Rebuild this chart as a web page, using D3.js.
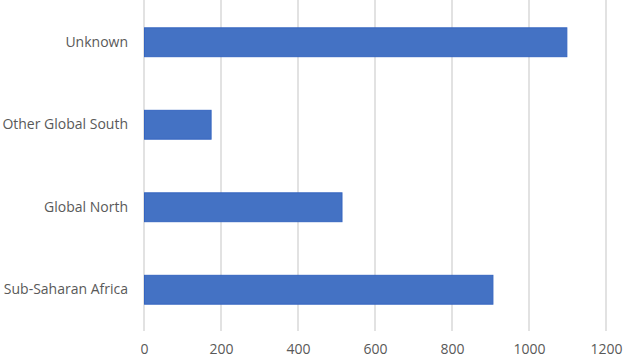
<!DOCTYPE html>
<html>
<head>
<meta charset="utf-8">
<script src="https://cdn.jsdelivr.net/npm/d3@7"></script>
<style>
  body { margin: 0; background: #fff; }
  svg text { font-family: "Open Sans", sans-serif; fill: #595959; }
</style>
</head>
<body>
<script>
// カテゴリと値（上から順）
var categories = ["Unknown", "Other Global South", "Global North", "Sub-Saharan Africa"];
var values = [1097, 173, 513, 905];
var tickValues = [0, 200, 400, 600, 800, 1000, 1200];

var fullWidth = 624, fullHeight = 359;
var margin = {top: 1, right: 18, bottom: 28, left: 144},
    width = fullWidth - margin.left - margin.right,
    height = fullHeight - margin.top - margin.bottom;

var data = categories.map((c, i) => ({name: c, value: values[i]}));

// X軸
var x = d3.scaleLinear().domain([0, 1200]).range([0, width]);

// Y軸（バンド）
var y = d3.scaleBand().domain(categories).range([0, height]).paddingInner(0.65).paddingOuter(0.325);

var svg = d3.select("body").append("svg")
    .attr("width", fullWidth)
    .attr("height", fullHeight)
    .append("g")
    .attr("transform", "translate(" + margin.left + "," + margin.top + ")");

// グリッド線
svg.append("g")
    .selectAll("line")
    .data(tickValues)
    .enter().append("line")
    .attr("x1", d => x(d))
    .attr("x2", d => x(d))
    .attr("y1", -1)
    .attr("y2", height)
    .attr("stroke", "#d9d9d9")
    .attr("stroke-width", 1.5);

// バー
svg.append("g")
    .selectAll("rect")
    .data(data)
    .enter().append("rect")
    .attr("x", x(0) + 0.5)
    .attr("y", d => y(d.name))
    .attr("width", d => x(d.value) - x(0))
    .attr("height", y.bandwidth())
    .attr("fill", "#4472c4")
    .attr("stroke", "#3565c0")
    .attr("stroke-width", 1);

// X軸ラベル
var xAxis = d3.axisBottom(x).tickValues(tickValues).tickFormat(d3.format("d")).tickSize(0).tickPadding(13);
var gx = svg.append("g")
    .attr("transform", "translate(0," + height + ")")
    .call(xAxis);
gx.select(".domain").remove();
gx.selectAll("text").style("font-size", "14px").attr("fill", "#595959");

// Y軸ラベル
var yAxis = d3.axisLeft(y).tickSize(0).tickPadding(16);
var gy = svg.append("g").call(yAxis);
gy.select(".domain").remove();
gy.selectAll("text").style("font-size", "14px").attr("fill", "#595959");
</script>
</body>
</html>
